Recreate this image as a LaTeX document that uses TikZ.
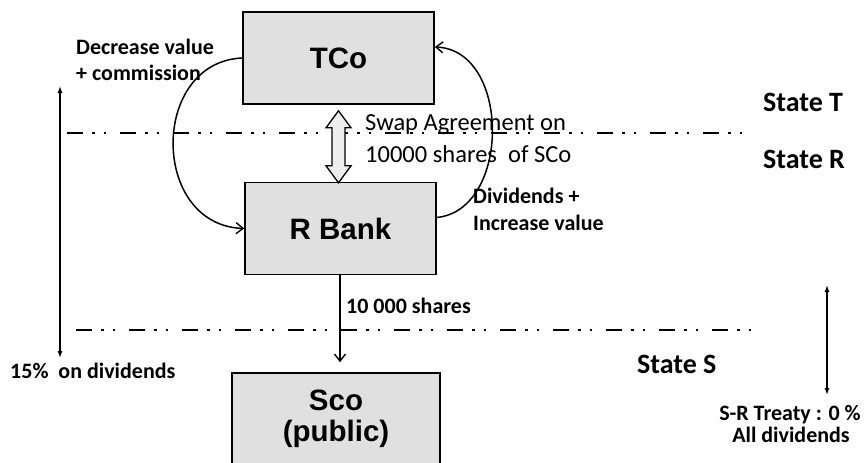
\documentclass[tikz,border=0pt]{standalone}
\usepackage{fontspec}
\setmainfont{Carlito}
\newfontfamily\boxfont{Liberation Sans}
\usetikzlibrary{arrows.meta,calc}

\tikzset{
  entity/.style={draw, line width=1.6pt, fill=black!12, minimum width=191pt,
    minimum height=92pt, inner sep=0pt, align=center,
    font=\boxfont\bfseries\fontsize{29.5}{31}\selectfont},
  flow/.style={line width=1.5pt, -{Straight Barb[length=7pt,width=11pt,line width=1.4pt]}},
  border/.style={line width=1.8pt, dash pattern=on 16pt off 9pt on 2.5pt off 9pt on 2.5pt off 14pt},
  span/.style={line width=1.3pt, {Latex[length=7pt,width=5pt]}-{Latex[length=7pt,width=5pt]}},
  lbl/.style={anchor=base west, inner sep=0pt, font=\bfseries\fontsize{22}{26}\selectfont},
  plain/.style={anchor=base west, inner sep=0pt, font=\fontsize{24.5}{32}\selectfont},
  statelbl/.style={anchor=base west, inner sep=0pt, font=\bfseries\fontsize{28}{32}\selectfont},
  swapshape/.style={draw, line width=1.3pt, fill=black!7, line join=miter}
}

\begin{document}
\begin{tikzpicture}[x=1pt, y=-1pt]
\useasboundingbox (0,0) rectangle (868,463);

% state borders
\draw[border] (67,133) -- (752,133);
\draw[border] (76,330) -- (760,330);

% entities
\node[entity] (tco)   at (338.5,58)  {TCo};
\node[entity] (rbank) at (340.5,228.5) {R Bank};
\node[entity, minimum width=208pt] (sco) at (336,419) {Sco\\(public)};

% swap agreement double arrow
\draw[swapshape] ([yshift=-6pt]tco.south) -- ++(12.5,17) -- ++(-6,0) -- ++(0,38)
  -- ++(6,0) -- ++(-12.5,17) -- ++(-12.5,-17) -- ++(6,0) -- ++(0,-38) -- ++(-6,0) -- cycle;

% payment flows
\draw[flow] (tco.west) .. controls (150,62) and (150,225) .. (rbank.west);
\draw[flow] ([yshift=11pt]rbank.east) .. controls (511,210) and (511,50) .. ([yshift=11pt]tco.east);
\draw[flow, shorten >=10pt] (rbank.south -| 340,0) -- (sco.north -| 340,0);

% withholding spans
\coordinate (lt) at (60,86);
\coordinate (lb) at (60,358);
\draw[span] (lt) -- (lb);
\coordinate (rt) at (827,285);
\coordinate (rb) at (827,395);
\draw[span] (rt) -- (rb);

% labels
\node[lbl] (dec1) at (76,54) {Decrease value};
\node[lbl] (dec2) at (76,80) {+ commission};
\node[plain] (sw1) at (365,130) {Swap Agreement on};
\node[plain] (sw2) at (365,162) {10000 shares\ \ of SCo};
\node[lbl] (div1) at (473,203) {Dividends +};
\node[lbl] (div2) at (473,230) {Increase value};
\node[lbl] (sh) at (346,313) {10 000 shares};
\node[lbl] (wht) at (10,378) {15\%\ \ on dividends};
\node[statelbl] (stT) at (763,111) {State T};
\node[statelbl] (stR) at (763,168) {State R};
\node[statelbl] (stS) at (637,373) {State S};
\node[lbl, anchor=base] (tr1) at (790,420) {S-R Treaty : 0 \%};
\node[lbl, anchor=base] (tr2) at (791,442) {All dividends};
\end{tikzpicture}
\end{document}
